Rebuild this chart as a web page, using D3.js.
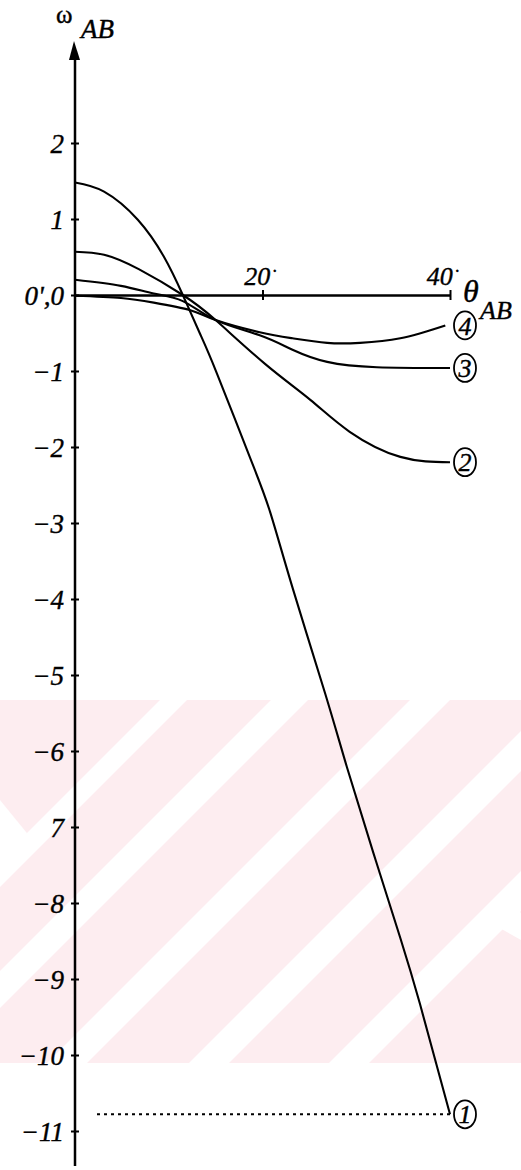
<!DOCTYPE html>
<html>
<head>
<meta charset="utf-8">
<script src="https://cdn.jsdelivr.net/npm/d3@7"></script>
<style>
body { margin: 0; background: #fff; }
svg { display: block; }
svg text { font-family: "Liberation Serif", "Times New Roman", serif; font-style: italic; fill: #000; stroke: #000; stroke-width: 0.4; }
</style>
</head>
<body>
<div id="chart"></div>
<script>
// theta in degrees, omega_AB
const theta1 = [0, 3.1, 6.7, 9.5, 11.5, 13.3, 15.1, 18.7, 20.8, 23.25, 26.7, 29.0, 31.8, 34.7, 36.8, 40];
const omega1 = [1.48, 1.36, 0.99, 0.50, 0, -0.50, -1.02, -2.15, -2.85, -3.87, -5.25, -6.21, -7.33, -8.46, -9.33, -10.78];

const theta2 = [0, 3.1, 6.8, 11.5, 15.0, 20.3, 25.1, 29.3, 34.7, 40];
const omega2 = [0.57, 0.53, 0.34, 0.0, -0.33, -0.91, -1.38, -1.80, -2.13, -2.20];

const theta3 = [0, 4.9, 8.4, 11.5, 15.0, 19.7, 23.2, 26.9, 32.2, 40];
const omega3 = [0.20, 0.12, 0.02, -0.08, -0.33, -0.53, -0.72, -0.88, -0.95, -0.96];

const theta4 = [0, 4.9, 8.4, 12.3, 15.0, 19.7, 23.2, 26.9, 30.4, 34.7, 39.5];
const omega4 = [-0.01, -0.04, -0.10, -0.20, -0.33, -0.49, -0.57, -0.63, -0.63, -0.57, -0.40];

const curveNames = ["1", "2", "3", "4"];

const yTicks = [2, 1, 0, -1, -2, -3, -4, -5, -6, -7, -8, -9, -10, -11];
const yTickLabels = ["2", "1", "0',0", "\u22121", "\u22122", "\u22123", "\u22124", "\u22125", "\u22126", "7", "\u22128", "\u22129", "\u221210", "\u221211"];
const xTicks = [20, 40];
const xTickLabels = ["20", "40"];

const width = 521, height = 1170;

const svg = d3.select("#chart").append("svg")
  .attr("width", width)
  .attr("height", height);

// faint watermark behind the lower half of the plot
const wm = svg.append("g");
wm.append("clipPath").attr("id", "wmclip")
  .append("rect").attr("x", 0).attr("y", 700).attr("width", width).attr("height", 363);
const wmg = wm.append("g").attr("clip-path", "url(#wmclip)");
wmg.append("rect").attr("x", 0).attr("y", 700).attr("width", width).attr("height", 363).attr("fill", "#fdedf0");
[[860, 887], [971, 1008], [1110, 1150], [1252, 1292], [1392, 1432]].forEach(([a, b]) => {
  wmg.append("polygon")
    .attr("points", `${a - 700},700 ${b - 700},700 ${b - 1063},1063 ${a - 1063},1063`)
    .attr("fill", "#fff");
});
wmg.append("polygon").attr("points", "0,800 35,843 8,870 0,862").attr("fill", "#fff");
wmg.append("polygon").attr("points", "503,895 521,913 521,940 480,917").attr("fill", "#fff");

const x = d3.scaleLinear().domain([0, 40]).range([75, 450]);
const y = d3.scaleLinear().domain([2, -11]).range([143, 1131]);

// y axis with cross ticks
const yAxis = svg.append("g")
  .attr("transform", `translate(${x(0)},0)`)
  .call(d3.axisLeft(y)
    .tickValues(yTicks)
    .tickFormat((d, i) => yTickLabels[i])
    .tickSizeInner(4)
    .tickSizeOuter(0)
    .tickPadding(7));
yAxis.attr("font-family", null);
yAxis.select(".domain").remove();
yAxis.selectAll(".tick line").attr("stroke", "#000").attr("stroke-width", 2);
yAxis.selectAll(".tick").append("line").attr("x2", 4).attr("stroke", "#000").attr("stroke-width", 2);
yAxis.selectAll(".tick text")
  .attr("font-size", 27)
  .attr("dy", "0.36em")
  .attr("fill", "#000");

svg.append("line")
  .attr("x1", x(0)).attr("x2", x(0))
  .attr("y1", 52).attr("y2", 1166)
  .attr("stroke", "#000").attr("stroke-width", 2.5);
svg.append("path")
  .attr("d", `M${x(0) - 1},41 L${x(0) - 6},60 L${x(0) + 5},60 Z`)
  .attr("fill", "#000");

// x axis
const xAxis = svg.append("g")
  .attr("transform", `translate(0,${y(0)})`)
  .call(d3.axisBottom(x)
    .tickValues(xTicks)
    .tickFormat("")
    .tickSizeInner(5)
    .tickSizeOuter(0));
xAxis.select(".domain").attr("stroke", "#000").attr("stroke-width", 2.5);
xAxis.selectAll(".tick line").attr("stroke", "#000").attr("stroke-width", 2);
xAxis.selectAll(".tick").append("line").attr("y2", -5).attr("stroke", "#000").attr("stroke-width", 2);

const xLabels = svg.append("g").selectAll("text")
  .data(xTicks)
  .enter()
  .append("text")
  .attr("x", (d, i) => x(d) - (i === 0 ? 2 : 7))
  .attr("y", y(0) - 10)
  .attr("text-anchor", "middle")
  .attr("font-size", 26);
xLabels.append("tspan").text((d, i) => xTickLabels[i]);
xLabels.append("tspan").attr("dx", 2).attr("dy", -8).attr("font-size", 18).text("\u00b7");

// axis titles
svg.append("text").attr("x", 56).attr("y", 23).attr("font-size", 25).style("font-style", "normal").text("\u03c9");
svg.append("text").attr("x", 81).attr("y", 38).attr("font-size", 27).text("AB");
svg.append("text").attr("x", 463).attr("y", 302).attr("font-size", 32).text("\u03b8");
svg.append("text").attr("x", 480).attr("y", 319).attr("font-size", 26).text("AB");

// curves
const series = [
  { name: curveNames[0], theta: theta1, omega: omega1 },
  { name: curveNames[1], theta: theta2, omega: omega2 },
  { name: curveNames[2], theta: theta3, omega: omega3 },
  { name: curveNames[3], theta: theta4, omega: omega4 }
];

const line = d3.line()
  .x(d => x(d[0]))
  .y(d => y(d[1]))
  .curve(d3.curveNatural);

svg.append("g")
  .selectAll("path")
  .data(series)
  .enter()
  .append("path")
  .attr("d", s => line(s.theta.map((t, i) => [t, s.omega[i]])))
  .attr("fill", "none")
  .attr("stroke", "#000")
  .attr("stroke-width", 2.1);

// dotted line to the end value of curve 1
svg.append("line")
  .attr("x1", x(0) + 22).attr("x2", x(40))
  .attr("y1", y(omega1[omega1.length - 1])).attr("y2", y(omega1[omega1.length - 1]))
  .attr("stroke", "#000").attr("stroke-width", 2)
  .attr("stroke-dasharray", "3,4");

// circled curve numbers
const labels = svg.append("g")
  .selectAll("g")
  .data(series)
  .enter()
  .append("g")
  .attr("transform", s => `translate(${x(40) + 15},${y(s.omega[s.omega.length - 1])})`);
labels.append("ellipse")
  .attr("rx", 11).attr("ry", 14)
  .attr("fill", "none").attr("stroke", "#000").attr("stroke-width", 1.8);
labels.append("text")
  .attr("text-anchor", "middle")
  .attr("dy", "0.35em")
  .attr("font-size", 26)
  .text(s => s.name);
</script>
</body>
</html>
